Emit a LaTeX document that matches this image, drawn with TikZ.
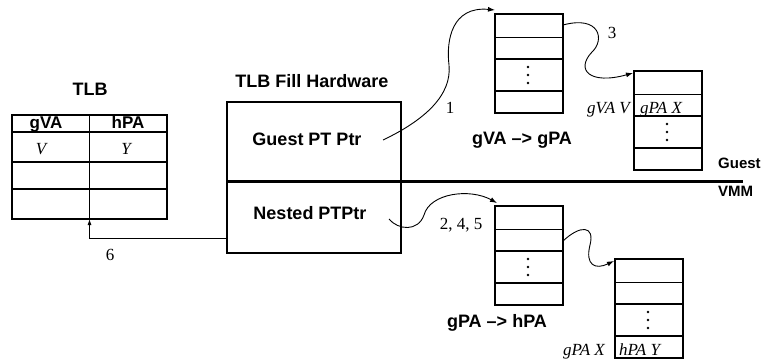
\documentclass[tikz,border=0pt]{standalone}
\usepackage{fontspec}
\setmainfont{Liberation Serif}
\setsansfont{Liberation Sans}
\usetikzlibrary{arrows.meta,calc}
\tikzset{
  boxshape/.style={draw, line width=1.1pt, inner sep=0pt, outer sep=0pt, anchor=north west},
  ptbox/.style={boxshape, minimum width=68pt, minimum height=99pt},
  rowline/.style={line width=1.1pt},
  lbl/.style={font=\sffamily\bfseries\fontsize{18}{20}\selectfont, inner sep=0pt, anchor=base},
  head lbl/.style={font=\sffamily\bfseries\fontsize{17}{19}\selectfont, inner sep=0pt, anchor=base},
  small lbl/.style={font=\sffamily\bfseries\fontsize{15}{17}\selectfont, inner sep=0pt, anchor=base west},
  num/.style={font=\fontsize{17}{20}\selectfont, inner sep=0pt, anchor=base},
  ital/.style={font=\itshape\fontsize{17}{20}\selectfont, inner sep=0pt, anchor=base},
  conn/.style={line width=0.9pt, -{Latex[length=7pt,width=5pt]}},
}
\newcommand\ptrows[1]{\foreach \o in {23.5,45,77} {\draw[rowline] ($(#1.north west)+(0,\o)$) -- ($(#1.north east)+(0,\o)$);}}
\newcommand\ptdots[1]{\foreach \o in {53,61,69} {\fill ($(#1.north west)+(33,\o)$) circle (1.3pt);}}
\begin{document}
\begin{tikzpicture}[x=1pt,y=-1pt]
\useasboundingbox (0,0) rectangle (761,360);

% TLB table
\node[boxshape, minimum width=155pt, minimum height=104pt] (tlb) at (12,115) {};
\draw[rowline] (tlb.north) -- (tlb.south);
\foreach \o in {17,47,74} {\draw[rowline] ($(tlb.north west)+(0,\o)$) -- ($(tlb.north east)+(0,\o)$);}
\node[lbl] (tlbtitle) at (90,95) {TLB};
\node[head lbl] (hgva) at (46,128.5) {gVA};
\node[head lbl] (hhpa) at (128,128.5) {hPA};
\node[ital] (vV) at (41,154) {V};
\node[ital] (vY) at (126,154) {Y};

% TLB fill hardware
\node[boxshape, minimum width=174pt, minimum height=151pt] (fill) at (227,102) {};
\node[lbl] (filltitle) at (312,87) {TLB Fill Hardware};
\node[lbl] (gptr) at (307,145.5) {Guest PT Ptr};
\node[lbl] (nptr) at (310,219) {Nested PTPtr};
\coordinate (sepL) at ($(fill.north west)+(0,79)$);
\coordinate (sepR) at (743,181);
\draw[line width=3pt] (sepL) -- (sepR);
\node[small lbl] (guest) at (718,168.5) {Guest};
\node[small lbl] (vmm) at (718,196) {VMM};

% guest page table
\node[ptbox] (pt1) at (495,14) {};
\ptrows{pt1}
\ptdots{pt1}
\node[lbl] (gvagpa) at (522,144) {gVA –> gPA};

\node[ptbox] (pt2) at (634,71) {};
\ptrows{pt2}
\ptdots{pt2}
\node[ital, anchor=base east] (gvaV) at (630,113) {gVA V};
\node[ital, anchor=base west] (gpaX) at (640,113) {gPA X};

% nested page table
\node[ptbox] (pt3) at (495,206) {};
\ptrows{pt3}
\ptdots{pt3}
\node[lbl] (gpahpa) at (497,327) {gPA –> hPA};

\node[ptbox] (pt4) at (615,259) {};
\ptrows{pt4}
\ptdots{pt4}
\node[ital, anchor=base east] (gpaX2) at (605,355) {gPA X};
\node[ital, anchor=base west] (hpaY) at (619,355) {hPA Y};

% connectors
\coordinate (c1s) at (383,140);
\coordinate (c1e) at ($(pt1.north west)+(0,-4)$);
\draw[conn] (c1s) .. controls (425,120) and (452,95) .. (449,65) .. controls (446,40) and (452,6) .. (c1e);
\node[num] (n1) at (450,113) {1};

\coordinate (c3s) at ($(pt1.north east)+(0,11)$);
\coordinate (c3e) at ($(pt2.north west)+(-1,2)$);
\draw[conn] (c3s) .. controls (600,15) and (605,40) .. (592,52) .. controls (575,70) and (590,85) .. (c3e);
\node[num] (n3) at (612,38) {3};

\coordinate (c2s) at (389,219);
\coordinate (c2e) at ($(pt3.north west)+(2,-3)$);
\draw[conn] (c2s) .. controls (398,230) and (418,232) .. (424,215) .. controls (430,193) and (470,188) .. (c2e);
\node[num] (n245) at (461,229) {2, 4, 5};

\coordinate (c4s) at ($(pt3.north east)+(0,35)$);
\coordinate (c4e) at ($(pt4.north west)+(-1,2)$);
\draw[conn] (c4s) .. controls (580,225) and (595,225) .. (590,245) .. controls (585,265) and (595,270) .. (c4e);

\coordinate (c6s) at ($(fill.north west)+(0,136)$);
\draw[line width=0.9pt, -{Latex[length=6pt,width=4pt]}] (c6s) -| (tlb.south);
\node[num] (n6) at (110,260) {6};
\end{tikzpicture}
\end{document}
